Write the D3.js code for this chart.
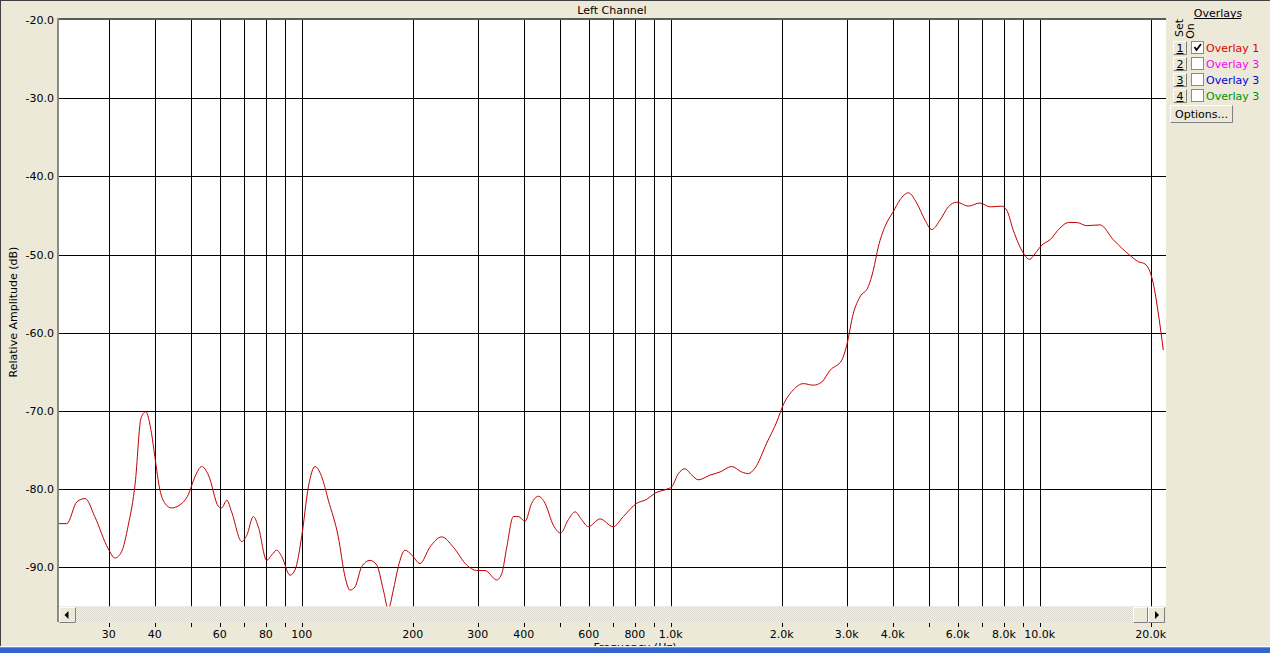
<!DOCTYPE html>
<html><head><meta charset="utf-8">
<script src="https://cdn.jsdelivr.net/npm/d3@7/dist/d3.min.js"></script>
<style>
html,body{margin:0;padding:0;background:#ECE9D8;overflow:hidden}
svg{display:block}
text{font-family:"DejaVu Sans",sans-serif;font-size:11px;fill:#000}
</style></head><body>
<script>
// ---- data ----
const freqHz = [22.0,23.1,24.6,25.9,27.5,29.9,31.2,32.5,33.9,35.4,36.7,37.8,39.2,40.0,41.3,42.6,44.4,46.8,49.3,51.4,
53.6,55.9,59.5,60.7,62.7,64.6,68.8,71.0,74.0,76.3,80.4,83.0,85.6,88.3,93.0,96.0,100.0,104.3,108.7,113.3,
118.1,125.7,131.1,135.2,139.5,145.5,153.2,159.8,166.5,171.7,177.2,182.8,190.6,198.7,209.3,222.7,239.6,257.6,280.1,298.1,
314.0,337.9,348.6,359.7,374.8,386.7,403.2,420.2,437.9,456.6,480.9,503.5,528.0,550.6,574.0,598.2,643.5,699.1,744.3,809.2,
861.4,907.1,976.0,1006.8,1049.3,1094.1,1140.7,1188.8,1278.3,1360.4,1463.6,1557.8,1623.4,1692.8,1821.1,1938.3,2019.9,2149.9,2288.2,2435.4,
2567,2703,2908,3000,3127,3260,3433,3542,3654,3810,4013,4184,4407,4644,4891,5098,5370,5654,5962,6406,
6893,7335,7889,8140,8485,9033,9376,9819,10131,10668,11356,11959,12602,13413,14573,15836,17574,18506,19298,19908,
20324,20966,21633];
const ampDb = [-84.4,-84.4,-81.6,-81.2,-83.5,-87.6,-88.8,-88.0,-84.6,-79.2,-70.9,-70.1,-72.9,-75.8,-80.1,-81.8,-82.4,-82.0,-80.7,-78.4,
-77.1,-78.2,-82.2,-82.4,-81.4,-82.9,-86.7,-85.9,-83.5,-84.8,-89.1,-88.4,-87.8,-88.6,-91.0,-90.3,-86.1,-79.7,-77.1,-78.4,
-81.4,-86.1,-91.2,-92.9,-92.5,-89.9,-89.1,-89.7,-92.9,-95.3,-92.9,-89.9,-87.8,-88.4,-89.5,-87.4,-86.1,-87.4,-89.7,-90.4,
-90.4,-91.6,-90.8,-87.4,-83.5,-83.5,-84.1,-81.8,-80.9,-81.8,-84.6,-85.6,-83.9,-82.9,-83.9,-84.8,-83.8,-84.8,-83.5,-81.8,
-81.3,-80.5,-80.0,-79.7,-78.0,-77.4,-78.2,-78.8,-78.2,-77.8,-77.1,-77.8,-78.0,-77.3,-74.1,-71.4,-69.2,-67.3,-66.5,-66.7,
-66.3,-64.8,-63.5,-61.6,-57.5,-55.4,-54.1,-52.0,-49.0,-46.4,-44.5,-43.0,-42.1,-43.4,-45.6,-46.8,-45.6,-43.9,-43.3,-43.8,
-43.4,-43.9,-43.8,-44.3,-46.9,-49.8,-50.6,-49.6,-48.8,-48.1,-46.6,-45.9,-45.9,-46.3,-46.2,-48.1,-50.1,-50.9,-51.2,-52.2,
-53.7,-57.5,-62.2];
const yTicks = [-20,-30,-40,-50,-60,-70,-80,-90];
const xGrid = [30,40,50,60,70,80,90,100,200,300,400,500,600,700,800,900,1000,2000,3000,4000,5000,6000,7000,8000,9000,10000,20000];
const xLabelValues = [30,40,60,80,100,200,300,400,600,800,1000,2000,3000,4000,6000,8000,10000,20000];
const xLabelTexts = ["30","40","60","80","100","200","300","400","600","800","1.0k","2.0k","3.0k","4.0k","6.0k","8.0k","10.0k","20.0k"];
const overlayNames = ["Overlay 1","Overlay 3","Overlay 3","Overlay 3"];
const overlayColors = ["#e00000","#ff00ff","#0000e0","#009000"];
const overlayOn = [true,false,false,false];

// ---- layout ----
const W = 1270, H = 653;
const L = 59, R = 1166, T = 20, B = 606.5;
const x = d3.scaleLog().domain([22,22000]).range([L,R]);
const y = d3.scaleLinear().domain([-20,-95]).range([T,B]);

const svg = d3.select("body").append("svg").attr("width",W).attr("height",H);
const defs = svg.append("defs");
const pat = defs.append("pattern").attr("id","dither").attr("width",2).attr("height",2).attr("patternUnits","userSpaceOnUse");
pat.append("rect").attr("width",2).attr("height",2).attr("fill","#f4f3ee");
pat.append("rect").attr("width",1).attr("height",1).attr("fill","#d8d5cc");
pat.append("rect").attr("x",1).attr("y",1).attr("width",1).attr("height",1).attr("fill","#d8d5cc");
defs.append("clipPath").attr("id","plotclip").append("rect").attr("x",L).attr("y",T).attr("width",R-L).attr("height",B-T);

svg.append("rect").attr("width",W).attr("height",H).attr("fill","#ECE9D8");
// outer frame
svg.append("line").attr("x1",0.5).attr("x2",0.5).attr("y1",0).attr("y2",H).attr("stroke","#404040");
svg.append("line").attr("x1",0).attr("x2",W).attr("y1",0.5).attr("y2",0.5).attr("stroke","#404040");

// plot background
svg.append("rect").attr("x",L).attr("y",T).attr("width",R-L).attr("height",B-T).attr("fill","#fff");

// grid
const g = svg.append("g");
g.selectAll("line.v").data(xGrid).enter().append("line")
  .attr("x1",d=>Math.round(x(d))+0.5).attr("x2",d=>Math.round(x(d))+0.5)
  .attr("y1",T).attr("y2",B).attr("stroke","#000").attr("stroke-width",1);
g.selectAll("line.h").data(yTicks.slice(1)).enter().append("line")
  .attr("x1",L).attr("x2",R).attr("y1",d=>Math.round(y(d))+0.5).attr("y2",d=>Math.round(y(d))+0.5)
  .attr("stroke","#000").attr("stroke-width",1);

// curve
const line = d3.line().x((d,i)=>x(freqHz[i])).y(d=>y(d)).curve(d3.curveMonotoneX);
svg.append("path").datum(ampDb).attr("d",line).attr("fill","none")
  .attr("stroke","#c00000").attr("stroke-width",1).attr("clip-path","url(#plotclip)");

// plot borders
svg.append("rect").attr("x",L-1).attr("y",T-2).attr("width",R-L+1).attr("height",2).attr("fill","#5a5a5a");
svg.append("rect").attr("x",L-2).attr("y",T-2).attr("width",2).attr("height",624-T).attr("fill","#8a8a86");

// y labels
svg.selectAll("text.yl").data(yTicks).enter().append("text")
  .attr("x",54).attr("y",d=>y(d)+4).attr("text-anchor","end").text(d=>d.toFixed(1));
svg.append("text").attr("transform","translate(17,312) rotate(-90)").attr("text-anchor","middle")
  .text("Relative Amplitude (dB)");

// title
svg.append("text").attr("x",612).attr("y",14).attr("text-anchor","middle").text("Left Channel");

// scrollbar
svg.append("rect").attr("x",L).attr("y",606.5).attr("width",R-L).attr("height",16).attr("fill","url(#dither)");
function button(bx,by,bw,bh){
  const b = svg.append("g");
  b.append("rect").attr("x",bx).attr("y",by).attr("width",bw).attr("height",bh).attr("fill","#ECE9D8");
  b.append("path").attr("d",`M${bx+0.5},${by+bh-0.5}V${by+0.5}H${bx+bw-0.5}`).attr("stroke","#fff").attr("fill","none");
  b.append("path").attr("d",`M${bx+0.5},${by+bh-0.5}H${bx+bw-0.5}V${by+0.5}`).attr("stroke","#808080").attr("fill","none");
  return b;
}
button(L,607,17,16);
svg.append("path").attr("d","M64.5,615 L68.5,611 L68.5,619 Z").attr("fill","#000");
button(1133,607,15,16);
button(1148,607,17,16);
svg.append("path").attr("d","M1159,615 L1155,611 L1155,619 Z").attr("fill","#000");

// x ticks & labels
svg.selectAll("line.xt").data(xGrid).enter().append("line")
  .attr("x1",d=>Math.round(x(d))+0.5).attr("x2",d=>Math.round(x(d))+0.5)
  .attr("y1",623).attr("y2",627).attr("stroke","#000");
svg.selectAll("text.xl").data(xLabelValues).enter().append("text")
  .attr("x",d=>x(d)).attr("y",638).attr("text-anchor","middle").text((d,i)=>xLabelTexts[i]);
svg.append("text").attr("x",635).attr("y",651).attr("text-anchor","middle").text("Frequency (Hz)");

// bottom blue bar
svg.append("rect").attr("x",0).attr("y",646).attr("width",W).attr("height",1).attr("fill","#fbfaf6");
svg.append("rect").attr("x",0).attr("y",647).attr("width",W).attr("height",6).attr("fill","#3366cc");
svg.append("rect").attr("x",0).attr("y",647).attr("width",W).attr("height",1).attr("fill","#6f93dc");

// ---- overlays panel ----
svg.append("text").attr("x",1218).attr("y",17).attr("text-anchor","middle").text("Overlays");
svg.append("line").attr("x1",1194).attr("x2",1241).attr("y1",18.5).attr("y2",18.5).attr("stroke","#000");
svg.append("text").attr("transform","translate(1183,28) rotate(-90)").attr("text-anchor","middle").text("Set");
svg.append("text").attr("transform","translate(1194,31) rotate(-90)").attr("text-anchor","middle").text("On");
overlayNames.forEach((nm,i)=>{
  const cy = 48 + i*16;
  button(1173, cy-7, 14, 14);
  svg.append("text").attr("x",1180).attr("y",cy+4).attr("text-anchor","middle")
    .style("text-decoration","underline").text(String(i+1));
  svg.append("rect").attr("x",1191.5).attr("y",cy-6.5).attr("width",12).attr("height",12)
    .attr("fill","#fff").attr("stroke","#8a8a86");
  if (overlayOn[i]) svg.append("path").attr("d",`M1194.5,${cy-1} L1196.5,${cy+2} L1201,${cy-4}`)
    .attr("stroke","#000").attr("stroke-width",1.8).attr("fill","none");
  svg.append("text").attr("x",1206).attr("y",cy+4).style("fill",overlayColors[i]).text(nm);
});
button(1170,105,63,18);
svg.append("text").attr("x",1201.5).attr("y",118).attr("text-anchor","middle").text("Options...");
</script>
</body></html>
